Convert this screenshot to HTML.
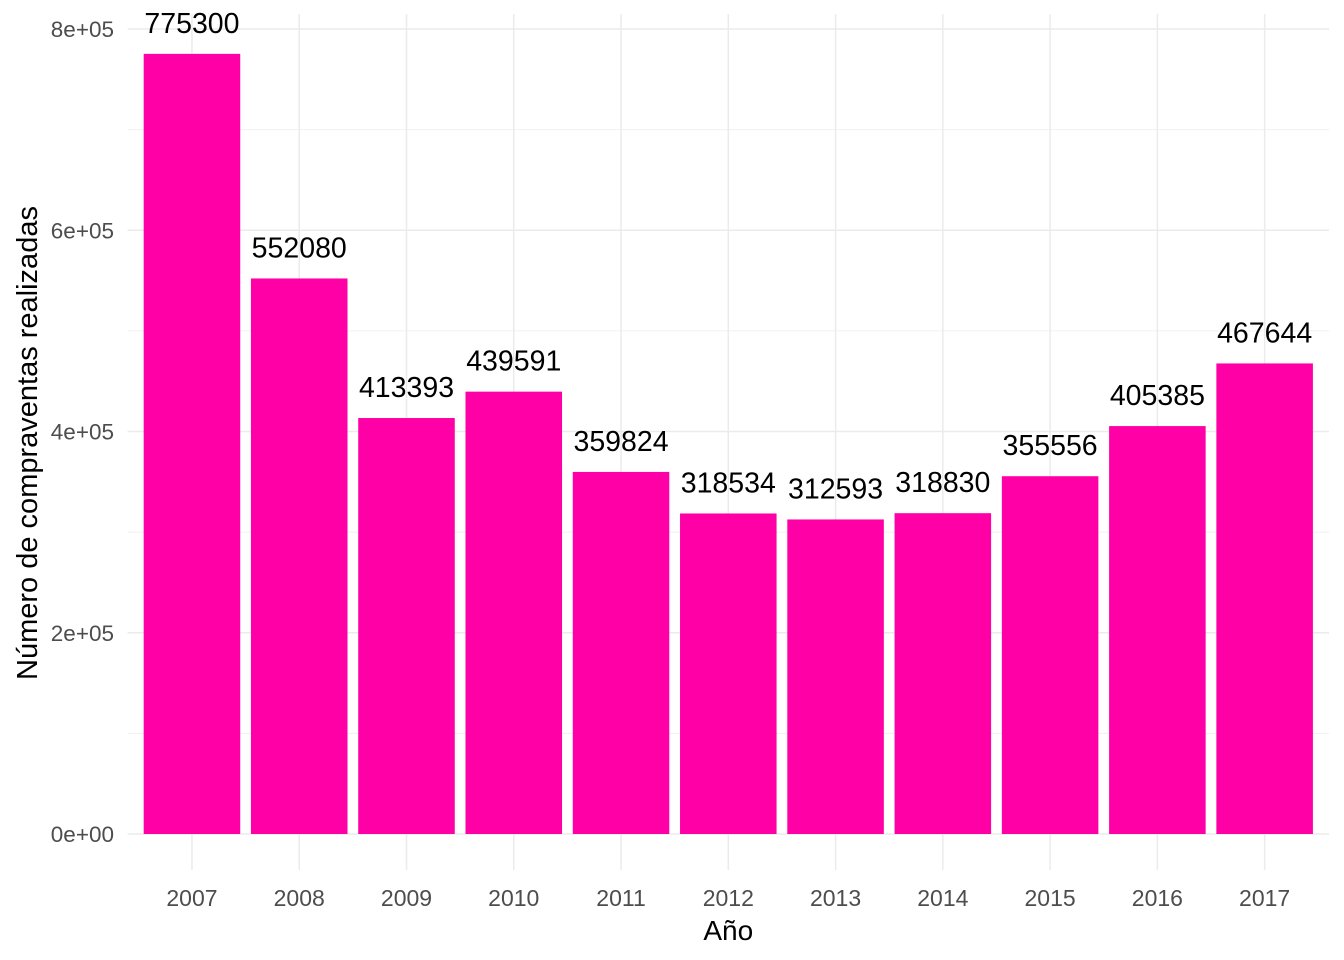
<!DOCTYPE html>
<html><head><meta charset="utf-8"><style>
body{margin:0;background:#fff}
svg{display:block;font-family:"Liberation Sans",Arial,sans-serif}
</style></head><body>
<svg id="chart" width="1344" height="960"></svg>
<script>
const categories=["2007","2008","2009","2010","2011","2012","2013","2014","2015","2016","2017"];
const values=[775300,552080,413393,439591,359824,318534,312593,318830,355556,405385,467644];
const yTicks=[0,200000,400000,600000,800000];
const yTickLabels=["0e+00","2e+05","4e+05","6e+05","8e+05"];
const yMinor=[100000,300000,500000,700000];

const NS="http://www.w3.org/2000/svg";
const svgRoot=document.getElementById("chart");
const plotLeft=127.6,plotRight=1329,plotTop=14,yZero=834,yEight=29;
const step=(plotRight-plotLeft)/(categories.length+0.2);
function xPos(i){return plotLeft+step*(0.6+i);}
function yPos(v){return yZero-(v/800000)*(yZero-yEight);}
function mk(t,a,txt){const e=document.createElementNS(NS,t);for(const k in a)e.setAttribute(k,a[k]);if(txt!==undefined)e.textContent=txt;svgRoot.appendChild(e);return e;}

yMinor.forEach(v=>{const l=mk("line",{x1:plotLeft,x2:plotRight,y1:yPos(v),y2:yPos(v),stroke:"#f0f0f0","stroke-width":1});

});
yTicks.forEach((v,i)=>{const l=mk("line",{x1:plotLeft,x2:plotRight,y1:yPos(v),y2:yPos(v),stroke:"#ebebeb","stroke-width":1.5});


const t=mk("text",{x:114,y:yPos(v)+8,"text-anchor":"end","font-size":22.5,fill:"#4d4d4d"},yTickLabels[i]);

});
categories.forEach((c,i)=>{const l=mk("line",{x1:xPos(i),x2:xPos(i),y1:plotTop,y2:870,stroke:"#ebebeb","stroke-width":1.5});

});
const bw=step*0.9;
categories.forEach((c,i)=>{
const r=mk("rect",{x:xPos(i)-bw/2,y:yPos(values[i]),width:bw,height:yZero-yPos(values[i]),fill:"#ff00a6"});


const t=mk("text",{x:xPos(i),y:yPos(values[i])-21,"text-anchor":"middle","font-size":28.5,fill:"#000"},String(values[i]));


const tl=mk("text",{x:xPos(i),y:906,"text-anchor":"middle","font-size":23,fill:"#4d4d4d"},c);


});
const xt=mk("text",{x:(plotLeft+plotRight)/2,y:940,"text-anchor":"middle","font-size":28,fill:"#000"},"Año");


const yt=mk("text",{x:0,y:0,transform:"translate(37,"+((yZero+plotTop)/2+19)+") rotate(-90)","text-anchor":"middle","font-size":29,fill:"#000"},"Número de compraventas realizadas");


</script>
</body></html>
